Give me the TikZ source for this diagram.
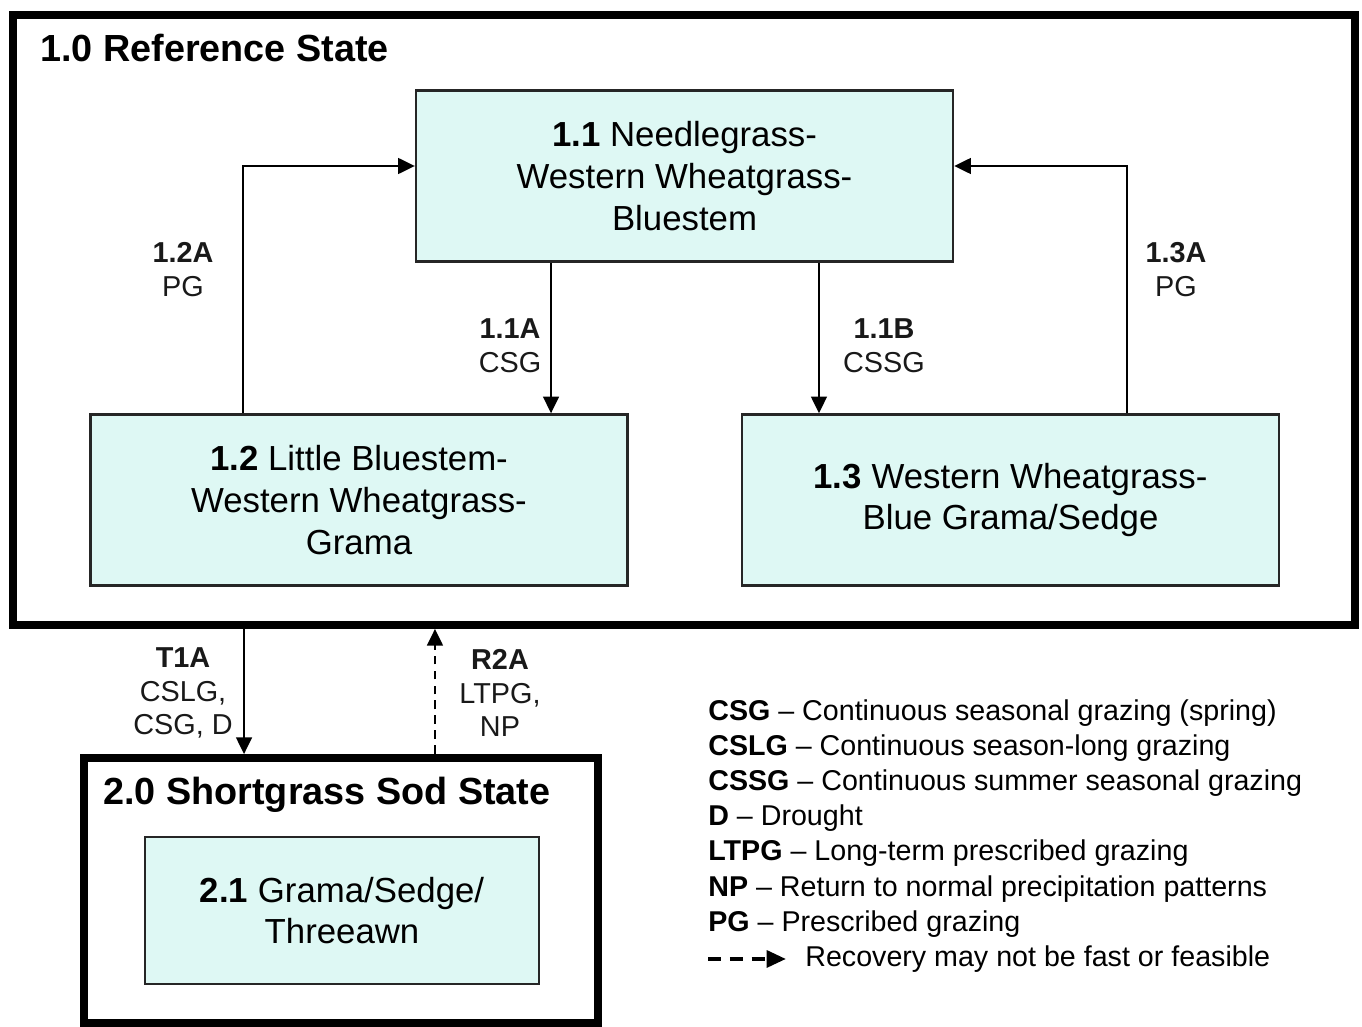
\documentclass[tikz,border=0pt]{standalone}
\usepackage{fontspec}
\setmainfont{Liberation Sans}
\usetikzlibrary{positioning, arrows.meta}
\definecolor{boxfill}{RGB}{222,248,244}

\begin{document}
\begin{tikzpicture}[
x=0.02cm, y=-0.02cm,
phase/.style={rectangle, draw=black!85, fill=boxfill, line width=1.4pt, minimum width=10.74cm, minimum height=3.42cm, align=center, font=\fontsize{19.8}{23.8}\selectfont},
statebox/.style={rectangle, draw=black, line width=4.5pt, inner sep=0},
title/.style={anchor=west, inner sep=0, font=\bfseries\fontsize{21.5}{25}\selectfont},
lab/.style={align=center, text=black!90, font=\fontsize{16.4}{19.3}\selectfont},
key/.style={anchor=north west, inner sep=0, text height=14pt, text depth=5.6pt, font=\fontsize{16.3}{19.3}\selectfont},
conn/.style={line width=1.1pt, -{Triangle[length=9.5pt, width=9pt]}}
]
\useasboundingbox (0,0) rectangle (1362,1027);

%States
\node[statebox, minimum width=26.84cm, minimum height=12.2cm] (ref) at (684,320) {};
\node[statebox, minimum width=10.28cm, minimum height=5.3cm]  (sod) at (341,890.5) {};
\node[title] (reft) at (40,48)  {1.0 Reference State};
\node[title] (sodt) at (103,795) {2.0 Shortgrass Sod State};

%Nodes
\node[phase] (n11) at (684.5,176) {\textbf{1.1} Needlegrass-\\Western Wheatgrass-\\Bluestem};
\node[phase] (n12) at (359,500)     {\textbf{1.2} Little Bluestem-\\Western Wheatgrass-\\Grama};
\node[phase] (n13) at (1010.5,500)  {\textbf{1.3} Western Wheatgrass-\\Blue Grama/Sedge};
\node[phase, minimum width=7.88cm, minimum height=2.94cm] (n21) at (342,910.5) {\textbf{2.1} Grama/Sedge/\\Threeawn};

%Labels
\node[lab] (l12a) at (183,270)  {\textbf{1.2A}\\PG};
\node[lab] (l11a) at (510,346)  {\textbf{1.1A}\\CSG};
\node[lab] (l11b) at (884,346)  {\textbf{1.1B}\\CSSG};
\node[lab] (l13a) at (1176,270) {\textbf{1.3A}\\PG};
\node[lab] (lt1a) at (183,693)  {\textbf{T1A}\\CSLG,\\CSG, D};
\node[lab] (lr2a) at (500,693)  {\textbf{R2A}\\LTPG,\\NP};

%Lines
\draw[conn] ([xshift=-2.32cm]n12.north) |- ([yshift=0.2cm]n11.west);
\draw[conn] ([xshift=2.33cm]n13.north) |- ([yshift=0.2cm]n11.east);
\draw[conn] ([xshift=-2.67cm]n11.south) -- ([xshift=-2.67cm]n11.south |- n12.north);
\draw[conn] ([xshift=2.69cm]n11.south) -- ([xshift=2.69cm]n11.south |- n13.north);
\draw[conn] ([xshift=-1.94cm]sod.north |- ref.south) -- ([xshift=-1.94cm]sod.north);
\draw[conn, dash pattern=on 5pt off 3.5pt] ([xshift=1.88cm]sod.north) -- ([xshift=1.88cm]sod.north |- ref.south);

%Legend
\node[key, anchor=west] (k1) at (708,713) {\textbf{CSG} -- Continuous seasonal grazing (spring)};
\node[key] (k2) at (k1.south west) {\textbf{CSLG} -- Continuous season-long grazing};
\node[key] (k3) at (k2.south west) {\textbf{CSSG} -- Continuous summer seasonal grazing};
\node[key] (k4) at (k3.south west) {\textbf{D} -- Drought};
\node[key] (k5) at (k4.south west) {\textbf{LTPG} -- Long-term prescribed grazing};
\node[key] (k6) at (k5.south west) {\textbf{NP} -- Return to normal precipitation patterns};
\node[key] (k7) at (k6.south west) {\textbf{PG} -- Prescribed grazing};
\node[key, xshift=1.94cm] (k8) at (k7.south west) {Recovery may not be fast or feasible};
\coordinate (ks) at ([xshift=-1.94cm]k8.west);
\coordinate (ke) at ([xshift=-0.38cm]k8.west);
\draw[line width=2.3pt, dash pattern=on 7.4pt off 5pt, -{Triangle[length=11pt, width=9.5pt]}] (ks) -- (ke);
\end{tikzpicture}
\end{document}
